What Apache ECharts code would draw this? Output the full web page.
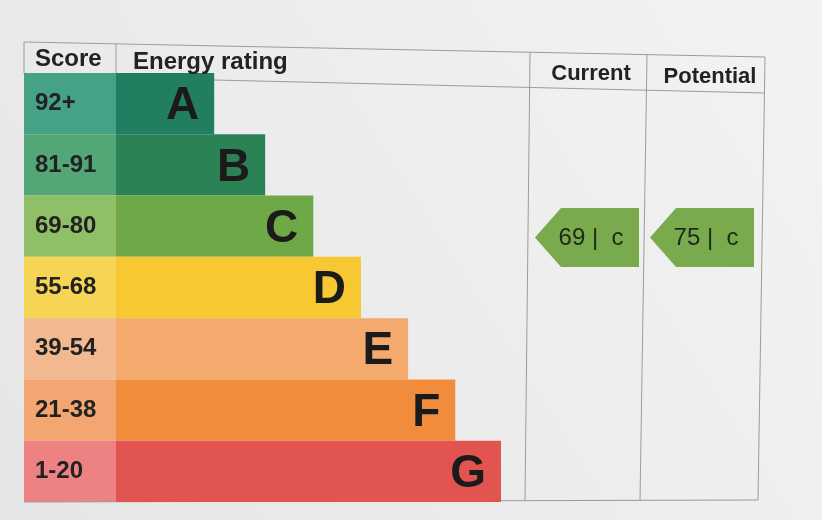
<!DOCTYPE html>
<html>
<head>
<meta charset="utf-8">
<script src="https://cdn.jsdelivr.net/npm/echarts@6/dist/echarts.min.js"></script>
<style>
html,body{margin:0;padding:0;background:#ececec;}
#chart{width:822px;height:520px;}
</style>
</head>
<body>
<div id="chart"></div>
<script>
// ---- data ----
const bands = ['A', 'B', 'C', 'D', 'E', 'F', 'G'];
const scoreRanges = ['92+', '81-91', '69-80', '55-68', '39-54', '21-38', '1-20'];
const barLengths = [2.04, 3.1, 4.1, 5.09, 6.07, 7.05, 8];
const scoreColors = ['#46a287', '#53a676', '#8fc067', '#f6d454', '#f2b890', '#f3a672', '#ee8282'];
const barColors = ['#217e60', '#2b8254', '#6fa847', '#f7c832', '#f4a96d', '#f28c3d', '#e2544f'];
const currentScore = 69;
const currentBand = 'C';
const potentialScore = 75;
const potentialBand = 'C';
const headers = ['Score', 'Energy rating', 'Current', 'Potential'];

const FONT = '"Liberation Sans", Arial, sans-serif';
const arrowPath = 'path://M0,50 L25,0 L100,0 L100,100 L25,100 Z';
const arrowColor = '#79aa4d';

const chart = echarts.init(document.getElementById('chart'), null, {renderer: 'canvas'});

function ratingAxis(gridIndex) {
  return {
    type: 'category', gridIndex: gridIndex, data: bands, inverse: true,
    axisLine: {show: false}, axisTick: {show: false}, axisLabel: {show: false},
    splitLine: {show: false}
  };
}
function hiddenValueAxis(gridIndex, max) {
  return {
    type: 'value', gridIndex: gridIndex, min: 0, max: max, show: false,
    splitLine: {show: false}
  };
}

const lineStyle = {stroke: '#9c9c9c', lineWidth: 1};
function seg(x1, y1, x2, y2, z) {
  return {type: 'line', shape: {x1, y1, x2, y2}, style: lineStyle, z: z || 1, silent: true};
}
function headerText(t, x, y, size, align) {
  return {type: 'text', x: x, y: y, z: 100, silent: true,
    style: {text: t, font: 'bold ' + size + 'px ' + FONT, fill: '#222',
      align: align, verticalAlign: 'middle'}};
}

const option = {
  backgroundColor: {
    type: 'linear', x: 1, y: 0, x2: 0, y2: 1,
    colorStops: [{offset: 0, color: '#f3f3f3'}, {offset: 1, color: '#e6e6e6'}]
  },
  animation: false,
  grid: [
    {left: 24, top: 73, width: 92, height: 429},
    {left: 116, top: 73, width: 385, height: 429},
    {left: 535, top: 91, width: 104, height: 410},
    {left: 650, top: 91, width: 104, height: 410}
  ],
  xAxis: [
    hiddenValueAxis(0, 1),
    hiddenValueAxis(1, 8),
    hiddenValueAxis(2, 1),
    hiddenValueAxis(3, 1)
  ],
  yAxis: [
    {
      type: 'category', gridIndex: 0, data: scoreRanges, inverse: true,
      axisLine: {show: false}, axisTick: {show: false},
      axisLabel: {
        show: true, inside: true, margin: 11,
        fontFamily: FONT, fontWeight: 'bold', fontSize: 24, color: '#222'
      },
      splitLine: {show: false},
      splitArea: {show: true, areaStyle: {color: scoreColors, opacity: 1}}
    },
    ratingAxis(1),
    ratingAxis(2),
    ratingAxis(3)
  ],
  series: [
    {
      type: 'bar', xAxisIndex: 1, yAxisIndex: 1,
      barCategoryGap: '0%',
      data: barLengths.map((v, i) => ({value: v, itemStyle: {color: barColors[i]}})),
      label: {
        show: true, position: 'insideRight', distance: 15,
        formatter: '{b}', fontFamily: FONT, fontWeight: 'bold', fontSize: 46,
        color: '#1b1b1b', offset: [0, 3]
      }
    },
    {
      type: 'scatter', xAxisIndex: 2, yAxisIndex: 2,
      symbol: arrowPath, symbolSize: [104, 59], symbolKeepAspect: false,
      itemStyle: {color: arrowColor, opacity: 1},
      data: [[0.5, currentBand]],
      label: {
        show: true, position: 'inside', offset: [4, 1],
        formatter: currentScore + ' |  ' + currentBand.toLowerCase(),
        fontFamily: FONT, fontSize: 24, color: '#1e2a16'
      }
    },
    {
      type: 'scatter', xAxisIndex: 3, yAxisIndex: 3,
      symbol: arrowPath, symbolSize: [104, 59], symbolKeepAspect: false,
      itemStyle: {color: arrowColor, opacity: 1},
      data: [[0.5, potentialBand]],
      label: {
        show: true, position: 'inside', offset: [4, 1],
        formatter: potentialScore + ' |  ' + potentialBand.toLowerCase(),
        fontFamily: FONT, fontSize: 24, color: '#1e2a16'
      }
    }
  ],
  graphic: [
    seg(24, 42, 765, 57),
    seg(214, 80, 765, 93),
    seg(24, 42, 24, 73),
    seg(116, 44, 116, 73),
    seg(530, 53, 525, 500),
    seg(647, 55, 640, 500),
    seg(765, 57, 758, 500),
    seg(24, 502, 758, 500, 0),
    headerText(headers[0], 35, 59, 24, 'left'),
    headerText(headers[1], 133, 62, 24, 'left'),
    headerText(headers[2], 591, 74, 22, 'center'),
    headerText(headers[3], 710, 77, 22, 'center')
  ]
};
chart.setOption(option);
</script>
</body>
</html>
